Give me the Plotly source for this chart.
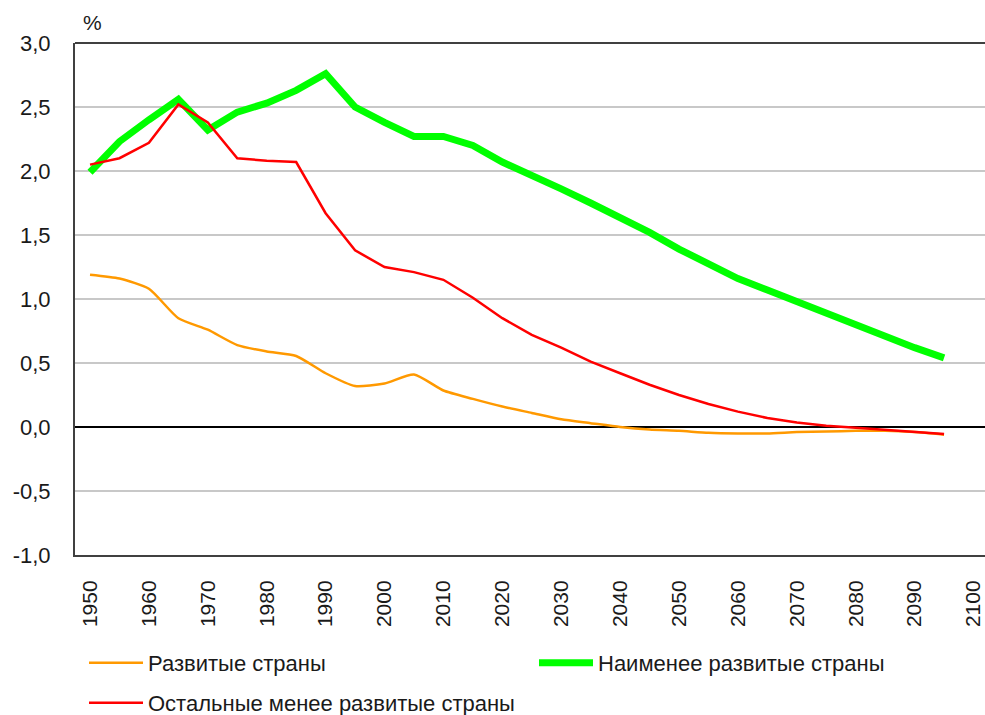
import plotly.graph_objects as go

years = list(range(1950, 2100, 5))

developed = [1.19, 1.16, 1.08, 0.85, 0.76, 0.64, 0.59, 0.555, 0.42, 0.32,
             0.34, 0.41, 0.285, 0.22, 0.16, 0.11, 0.06, 0.03, 0.00, -0.02,
             -0.03, -0.045, -0.05, -0.05, -0.04, -0.035, -0.03, -0.03, -0.04, -0.06]

least_developed = [1.99, 2.23, 2.40, 2.56, 2.32, 2.46, 2.53, 2.63, 2.76, 2.50,
                   2.38, 2.27, 2.27, 2.20, 2.07, 1.97, 1.86, 1.75, 1.64, 1.52,
                   1.39, 1.27, 1.16, 1.07, 0.98, 0.88, 0.79, 0.70, 0.62, 0.54]

other_less_developed = [2.05, 2.10, 2.22, 2.52, 2.38, 2.10, 2.08, 2.07, 1.67, 1.38,
                        1.25, 1.21, 1.15, 1.01, 0.85, 0.72, 0.62, 0.51, 0.42, 0.33,
                        0.25, 0.18, 0.12, 0.07, 0.035, 0.01, -0.005, -0.02, -0.035, -0.055]

names = ["Развитые страны", "Наименее развитые страны", "Остальные менее развитые страны"]
x_ticks = list(range(1950, 2101, 10))
y_ticks = [-1.0, -0.5, 0.0, 0.5, 1.0, 1.5, 2.0, 2.5, 3.0]
y_tick_labels = ["-1,0", "-0,5", "0,0", "0,5", "1,0", "1,5", "2,0", "2,5", "3,0"]

FONT = "Liberation Sans, Arial, sans-serif"
TXT = "#1a1a1a"

fig = go.Figure()
fig.add_trace(go.Scatter(x=years, y=developed, name=names[0], mode="lines",
                         line=dict(color="#FF9900", width=2.5, shape="spline", smoothing=0.6),
                         legend="legend"))
fig.add_trace(go.Scatter(x=years, y=least_developed, name=names[1], mode="lines",
                         line=dict(color="#00FF00", width=7),
                         legend="legend2"))
fig.add_trace(go.Scatter(x=years, y=other_less_developed, name=names[2], mode="lines",
                         line=dict(color="#FF0000", width=2.5),
                         legend="legend3"))

def leg(x, y):
    return dict(x=x, y=y, orientation="h", font=dict(family=FONT, size=22, color=TXT),
                bgcolor="rgba(0,0,0,0)", xanchor="left", yanchor="middle",
                itemwidth=54)

fig.update_layout(
    width=985, height=715,
    margin=dict(l=75, r=0, t=43, b=160, autoexpand=False),
    paper_bgcolor="white", plot_bgcolor="white",
    separators=", ",
    font=dict(family=FONT, size=22, color=TXT),
    showlegend=True,
    legend=leg((84 - 75) / 910, (555 - 663) / 512),
    legend2=leg((534 - 75) / 910, (555 - 663) / 512),
    legend3=leg((84 - 75) / 910, (555 - 703) / 512),
    xaxis=dict(range=[1947.45, 2101.95], tickmode="array", tickvals=x_ticks,
               ticktext=[str(v) for v in x_ticks], tickangle=-90, automargin=False,
               showgrid=False, zeroline=False, showline=True, linecolor="#404040",
               linewidth=2, ticks="", ticklabelstandoff=15,
               tickfont=dict(family=FONT, size=21, color=TXT)),
    yaxis=dict(range=[-1.0, 3.0], tickmode="array", tickvals=y_ticks,
               ticktext=y_tick_labels, automargin=False,
               showgrid=True, gridcolor="#C8C8C8", gridwidth=1.5,
               zeroline=True, zerolinecolor="#000000", zerolinewidth=1.5,
               showline=True, linecolor="#404040", linewidth=2, ticks="",
               ticklabelstandoff=18,
               tickfont=dict(family=FONT, size=22, color=TXT)),
    shapes=[dict(type="line", xref="paper", yref="paper", x0=0, x1=1, y0=1, y1=1,
                 line=dict(color="#404040", width=2))],
    annotations=[dict(text="%", xref="paper", yref="paper", x=(92 - 75) / 910,
                      y=1 + (43 - 22) / 512, xanchor="center", yanchor="middle",
                      showarrow=False,
                      font=dict(family=FONT, size=21, color=TXT))],
)

fig.write_html("out.html", config={"displayModeBar": False},
               post_script="document.body.style.margin='0px';document.body.style.padding='0px';")
